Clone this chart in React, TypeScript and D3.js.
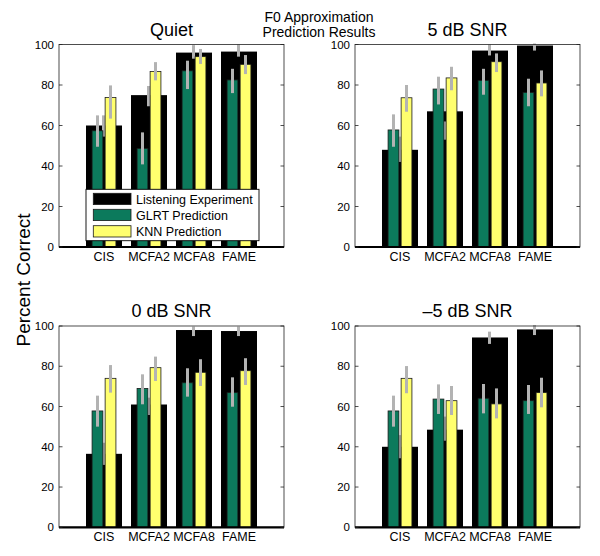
import React from "react";
import * as d3 from "d3";

// ---------- data ----------
const categories = ["CIS", "MCFA2", "MCFA8", "FAME"];
const panelTitles = ["Quiet", "5 dB SNR", "0 dB SNR", "\u20135 dB SNR"];
const yTicks = [0, 20, 40, 60, 80, 100];
const seriesNames = ["Listening Experiment", "GLRT Prediction", "KNN Prediction"];

// per panel (Quiet, 5 dB, 0 dB, -5 dB), per category
const listening = [
  [60, 75, 96, 96.5],
  [48, 67, 97, 99.5],
  [36.5, 61, 98, 97.5],
  [40, 48.5, 94.3, 98.3],
];
const listeningErrLo = [
  [54.5, 69.5, 93, 94],
  [42, 53, 94.6, 97],
  [31, 55.8, 95, 95],
  [34.3, 43, 91.1, 95.5],
];
const listeningErrHi = [
  [65, 79.5, 99.7, 100],
  [54.5, 62, 100, 100.5],
  [42, 64.4, 99.7, 99.7],
  [45.8, 55, 97.2, 100.5],
];

const glrt = [
  [57.4, 48.7, 87, 82.5],
  [57.8, 78, 82.3, 76.3],
  [57.8, 69, 71.8, 66.9],
  [57.8, 63.7, 64.1, 62.9],
];
const glrtErrLo = [
  [49.5, 40.8, 78, 76],
  [49.5, 70.4, 75.2, 69.5],
  [50, 61.1, 64.9, 59.9],
  [50, 56.3, 56.6, 56.3],
];
const glrtErrHi = [
  [65, 56.6, 92, 88],
  [65.5, 84.1, 88, 83.1],
  [65.4, 76, 79, 74.5],
  [65.4, 71, 71.2, 70.7],
];

const knn = [
  [73.8, 86.7, 94, 90.2],
  [73.7, 83.5, 91.5, 81],
  [74, 79.3, 77, 77.8],
  [74, 62.9, 61.3, 66.9],
];
const knnErrLo = [
  [63.4, 82.3, 90.4, 85.4],
  [66.8, 77.4, 86.4, 74.4],
  [66.9, 72.7, 70.2, 70.7],
  [66.6, 55.8, 54.1, 59.6],
];
const knnErrHi = [
  [79.8, 91.3, 97.8, 94.8],
  [80, 89, 95.6, 87.2],
  [80.6, 84.8, 83.5, 84],
  [80.1, 70.2, 69, 74.3],
];

// ---------- styling / layout ----------
const W = 600;
const H = 556;
const FONT = "'Liberation Sans', Arial, Helvetica, sans-serif";
const BLACK = "#000000";
const GREEN = "#0c7a5c";
const YELLOW = "#ffff6e";
const GRAY = "#b3b3b3";

const panels = [
  { left: 59, right: 284, top: 44.5, bottom: 247 },
  { left: 355, right: 580, top: 44.5, bottom: 247 },
  { left: 59, right: 284, top: 326, bottom: 527.3 },
  { left: 355, right: 580, top: 326, bottom: 527.3 },
];

function Panel({ idx }: { idx: number }) {
  const p = panels[idx];
  const x = d3.scaleLinear().domain([0, categories.length + 1]).range([p.left, p.right]);
  const y = d3.scaleLinear().domain([0, 100]).range([p.bottom, p.top]);
  const bigW = x(0.8) - x(0);
  const smallW = x(0.24) - x(0);
  const off = 0.145;

  const smallSeries = [
    { vals: glrt[idx], lo: glrtErrLo[idx], hi: glrtErrHi[idx], color: GREEN, dx: -off },
    { vals: knn[idx], lo: knnErrLo[idx], hi: knnErrHi[idx], color: YELLOW, dx: off },
  ];

  return (
    <g>
      {/* title */}
      <text
        x={(p.left + p.right) / 2}
        y={p.top - 9}
        textAnchor="middle"
        fontSize={18}
        fontFamily={FONT}
      >
        {panelTitles[idx]}
      </text>
      {/* black bars */}
      {categories.map((c, i) => (
        <rect
          key={"b" + c}
          x={x(i + 1) - bigW / 2}
          y={y(listening[idx][i])}
          width={bigW}
          height={y(0) - y(listening[idx][i])}
          fill={BLACK}
        />
      ))}
      {categories.map((c, i) => (
        <line
          key={"be" + c}
          x1={x(i + 1) - 0.5}
          x2={x(i + 1) - 0.5}
          y1={y(listeningErrLo[idx][i])}
          y2={y(listeningErrHi[idx][i])}
          stroke={GRAY}
          strokeWidth={3}
        />
      ))}
      {smallSeries.map((s, si) => (
        <g key={"s" + si}>
          {categories.map((c, i) => (
            <rect
              key={"r" + c}
              x={x(i + 1 + s.dx) - smallW / 2}
              y={y(s.vals[i])}
              width={smallW}
              height={y(0) - y(s.vals[i])}
              fill={s.color}
              stroke="#1a1a1a"
              strokeWidth={0.8}
            />
          ))}
          {categories.map((c, i) => (
            <line
              key={"e" + c}
              x1={x(i + 1 + s.dx)}
              x2={x(i + 1 + s.dx)}
              y1={y(s.lo[i])}
              y2={y(s.hi[i])}
              stroke={GRAY}
              strokeWidth={3}
            />
          ))}
        </g>
      ))}
      {/* axes box */}
      <rect
        x={p.left}
        y={p.top}
        width={p.right - p.left}
        height={p.bottom - p.top}
        fill="none"
        stroke="#222"
        strokeWidth={0.8}
      />
      <line x1={p.left} x2={p.right} y1={p.bottom} y2={p.bottom} stroke={BLACK} strokeWidth={2.2} />
      {yTicks.map((t) => (
        <g key={"t" + t}>
          <line x1={p.left} x2={p.left + 3.5} y1={y(t)} y2={y(t)} stroke="#222" strokeWidth={0.8} />
          <line x1={p.right - 3.5} x2={p.right} y1={y(t)} y2={y(t)} stroke="#222" strokeWidth={0.8} />
          <text
            x={p.left - 5}
            y={y(t)}
            dy="0.36em"
            textAnchor="end"
            fontSize={11.5}
            fontFamily={FONT}
          >
            {t}
          </text>
        </g>
      ))}
      {categories.map((c, i) => (
        <text
          key={"xl" + c}
          x={x(i + 1)}
          y={p.bottom + 14}
          textAnchor="middle"
          fontSize={12.5}
          fontFamily={FONT}
        >
          {c}
        </text>
      ))}
    </g>
  );
}

function Legend() {
  const colors = [BLACK, GREEN, YELLOW];
  const rowY = [193.3, 209.3, 225.7];
  return (
    <g>
      <rect x={86} y={189.3} width={173} height={51.4} fill="#fff" stroke="#000" strokeWidth={0.9} />
      {seriesNames.map((n, i) => (
        <g key={n}>
          <rect
            x={93.3}
            y={rowY[i]}
            width={37.7}
            height={11.3}
            fill={colors[i]}
            stroke="#1a1a1a"
            strokeWidth={0.8}
          />
          <text x={136} y={rowY[i] + 10.5} fontSize={12.5} fontFamily={FONT}>
            {n}
          </text>
        </g>
      ))}
    </g>
  );
}

export default function App() {
  return (
    <svg
      width={W}
      height={H}
      style={{ position: "absolute", left: 0, top: 0, background: "#fff" }}
    >
      <rect x={0} y={0} width={W} height={H} fill="#fff" />
      <text x={319} y={21.5} textAnchor="middle" fontSize={14} fontFamily={FONT}>
        F0 Approximation
      </text>
      <text x={319} y={36.5} textAnchor="middle" fontSize={14} fontFamily={FONT}>
        Prediction Results
      </text>
      <text
        transform="translate(30,280) rotate(-90)"
        textAnchor="middle"
        fontSize={19}
        fontFamily={FONT}
      >
        Percent Correct
      </text>
      {panels.map((_, i) => (
        <Panel key={i} idx={i} />
      ))}
      <Legend />
    </svg>
  );
}
